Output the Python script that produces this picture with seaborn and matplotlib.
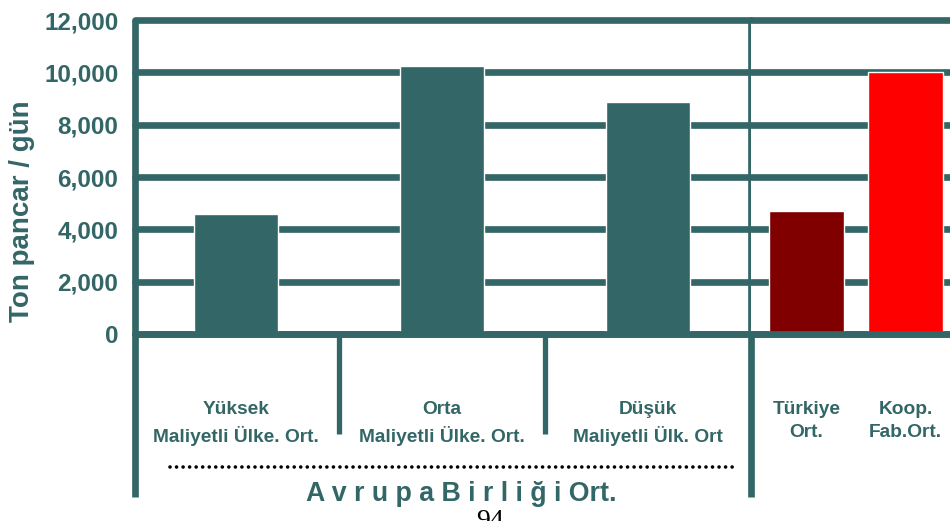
import matplotlib
matplotlib.use("Agg")
import matplotlib.pyplot as plt
import matplotlib.transforms as mtransforms
import numpy as np
import seaborn as sns

# data
eu_labels = ["Yüksek\nMaliyetli Ülke. Ort.", "Orta\nMaliyetli Ülke. Ort.", "Düşük\nMaliyetli Ülk. Ort"]
eu_values = [4600, 10250, 8850]
tr_labels = ["Türkiye\nOrt.", "Koop.\nFab.Ort."]
tr_values = [4700, 10000]
tr_colors = ["#800000", "#ff0000"]
y_ticks = [0, 2000, 4000, 6000, 8000, 10000, 12000]
y_label = "Ton pancar / gün"
group_label = "A v r u p a B i r l i ğ i Ort."
page_number = "94"

TEAL = "#336666"
LW = 4.8

sns.set_theme(style="white")
plt.rcParams["font.family"] = ["Liberation Sans", "DejaVu Sans"]
plt.rcParams["font.weight"] = "bold"

fig = plt.figure(figsize=(9.5, 5.21), dpi=100)
ax_eu = fig.add_axes([0.1421, 0.3589, 0.6484, 0.6027])
ax_tr = fig.add_axes([0.7905, 0.3589, 0.2095, 0.6027], sharey=ax_eu)

sns.barplot(x=eu_labels, y=eu_values, ax=ax_eu, color=TEAL, saturation=1, width=0.41)
sns.barplot(x=tr_labels, y=tr_values, hue=tr_labels, palette=tr_colors, ax=ax_tr,
            saturation=1, width=0.75, legend=False)

for ax in (ax_eu, ax_tr):
    ax.set_ylim(0, 12000)
    ax.set_yticks(y_ticks)
    ax.yaxis.grid(True, color=TEAL, linewidth=LW)
    ax.xaxis.grid(False)
    for line in ax.get_ygridlines():
        line.set_clip_on(False)
    ax.axhline(0, color=TEAL, lw=LW, clip_on=False, zorder=4)
    sns.despine(ax=ax, left=True, bottom=True)
    ax.set_xlabel("")
    ax.set_ylabel("")
    ax.tick_params(length=0)
    ax.tick_params(axis="x", pad=48, labelsize=13.8, labelcolor=TEAL)
    for t in ax.get_xticklabels():
        t.set_fontweight("bold")
        t.set_linespacing(1.5)

ax_eu.set_xlim(-0.49, 2.5)
ax_tr.set_xlim(-0.56, 1.45)
ax_tr.tick_params(labelleft=False)

ax_eu.set_yticklabels([f"{v:,}" for v in y_ticks], fontsize=17.5, color=TEAL, fontweight="bold")
ax_eu.tick_params(axis="y", pad=12)
ax_eu.set_ylabel(y_label, fontsize=20, color=TEAL, fontweight="bold")
ax_eu.yaxis.set_label_coords(-0.163, 0.39)

# left frame line and the divider, both running below the plot
for x in (0, 1):
    ax_eu.plot([x, x], [1, -0.519], transform=ax_eu.transAxes, color=TEAL, lw=LW,
               clip_on=False, solid_capstyle="butt", zorder=5)

# separators between the EU categories
blend = mtransforms.blended_transform_factory(ax_eu.transData, ax_eu.transAxes)
ax_eu.vlines(np.arange(len(eu_labels) - 1) + 0.5, -0.32, 0, transform=blend,
             colors=TEAL, lw=3.8, clip_on=False)

# dotted bracket and group label
ax_eu.plot([0.057, 0.974], [-0.424, -0.424], transform=ax_eu.transAxes, color="black",
           lw=2.6, linestyle=(0, (0.01, 1.8)), dash_capstyle="round", clip_on=False)
ax_eu.text(0.529, -0.51, group_label, transform=ax_eu.transAxes, ha="center", va="center",
           fontsize=19.3, color=TEAL, fontweight="bold")

fig.text(0.516, 1 - 509 / 521, page_number, ha="center", va="top", fontsize=20,
         family="Liberation Serif", fontweight="normal", color="black")

fig.savefig("out.png", dpi=100, facecolor="white")
